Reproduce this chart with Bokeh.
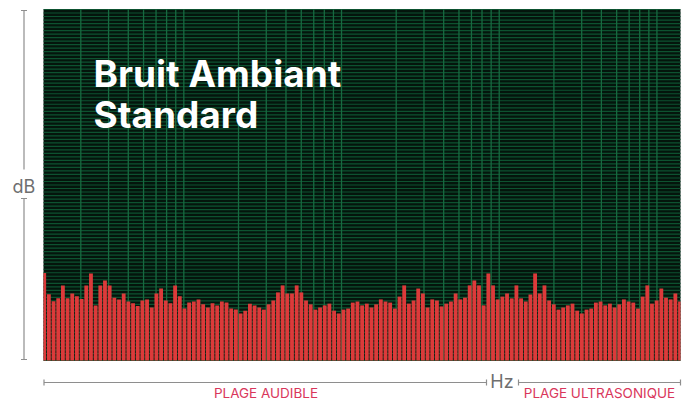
import math
import numpy as np
from bokeh.plotting import figure
from bokeh.models import Range1d, LinearScale, LogScale, Label, Arrow, TeeHead
from bokeh.embed import file_html
from bokeh.resources import INLINE

# ---- data ----
bar_index = list(range(137))
levels_db = [
    24.9, 18.9, 16.9, 17.7, 21.4, 17.7, 19.1, 18.3, 17.5, 21.4,
    24.8, 15.7, 21.4, 22.8, 21.4, 17.9, 17.4, 19.1, 16.8, 16.3,
    15.5, 17.1, 17.4, 15.1, 19.1, 20.5, 17.1, 16.3, 21.4, 18.3,
    14.8, 16.5, 16.8, 17.4, 16.0, 15.1, 16.3, 15.7, 16.8, 16.5,
    14.8, 14.5, 13.4, 14.2, 16.2, 15.7, 15.1, 14.5, 16.0, 17.1,
    19.4, 21.4, 19.1, 19.1, 21.4, 19.4, 17.1, 16.0, 14.5, 15.1,
    15.7, 16.2, 14.2, 13.4, 14.5, 14.8, 16.5, 16.8, 15.7, 16.2,
    15.1, 16.0, 17.4, 16.8, 16.5, 14.8, 18.2, 21.4, 16.2, 17.1,
    20.5, 19.1, 15.1, 17.4, 17.1, 15.4, 16.2, 16.8, 19.1, 17.4,
    17.9, 21.4, 22.8, 21.4, 15.7, 24.8, 21.4, 17.4, 18.2, 19.1,
    17.7, 21.4, 17.7, 16.8, 18.8, 24.8, 19.1, 21.4, 17.1, 16.0,
    14.5, 15.1, 15.7, 16.2, 14.2, 13.4, 14.5, 14.8, 16.5, 16.8,
    15.7, 16.2, 15.1, 16.0, 17.4, 16.8, 16.5, 14.8, 18.2, 21.4,
    16.2, 17.1, 20.5, 17.9, 17.4, 19.1, 16.8,
]
bar_range = [-0.15, 136.1]
freq_range_hz = [11.6, 127000]
freq_grid_hz = [20, 30, 40, 50, 60, 70, 80, 90,
                200, 300, 400, 500, 600, 700, 800, 900,
                2000, 3000, 4000, 5000, 6000, 7000, 8000, 9000,
                20000, 30000, 40000, 50000, 60000, 70000, 80000, 90000]
db_range = [0, 100]
db_grid = list(range(0, 101))
title_lines = ["Bruit Ambiant", "Standard"]
y_label = "dB"
x_label = "Hz"
band_labels = ["PLAGE AUDIBLE", "PLAGE ULTRASONIQUE"]

# ---- layout (canvas pixels) ----
W, H = 689, 401
L, R, T, B = 43, 680, 9, 360

p = figure(width=W, height=H, output_backend="svg", toolbar_location=None,
           x_axis_location=None, y_axis_location=None,
           x_range=Range1d(0, W), y_range=Range1d(H, 0),
           min_border=0)
p.min_border_left = p.min_border_right = p.min_border_top = p.min_border_bottom = 0
p.background_fill_color = "white"
p.border_fill_color = "white"
p.outline_line_color = None
p.grid.visible = False

# extra ranges so the plot area [L,R]x[T,B] shows the data ranges
pitch = (R - L) / (bar_range[1] - bar_range[0])
idx_start = bar_range[0] - L / pitch
idx_end = bar_range[1] + (W - R) / pitch
dbs = (B - T) / (db_range[1] - db_range[0])
db_start = db_range[0] - (H - B) / dbs
db_end = db_range[1] + T / dbs
dec = (R - L) / math.log10(freq_range_hz[1] / freq_range_hz[0])
f_start = freq_range_hz[0] / 10 ** (L / dec)
f_end = freq_range_hz[1] * 10 ** ((W - R) / dec)
p.extra_x_ranges = {"idx": Range1d(idx_start, idx_end), "freq": Range1d(f_start, f_end)}
p.extra_x_scales = {"idx": LinearScale(), "freq": LogScale()}
p.extra_y_ranges = {"db": Range1d(db_start, db_end)}

# plot area background
p.quad(left=[L], right=[R], top=[T], bottom=[B], fill_color="#04150c", line_color=None)

# horizontal grid (dB)
p.segment(x0=[L] * len(db_grid), x1=[R] * len(db_grid), y0=db_grid, y1=db_grid,
          y_range_name="db", line_color="#0d5230", line_width=1.2)
# vertical grid (log frequency)
p.segment(x0=freq_grid_hz, x1=freq_grid_hz, y0=[T] * len(freq_grid_hz), y1=[B] * len(freq_grid_hz),
          x_range_name="freq", line_color="#176a40", line_width=1.3)

# bars, clipped to the plot area
bi = np.array(bar_index, dtype=float)
half = 0.41
p.quad(left=np.clip(bi - half, bar_range[0], bar_range[1]),
       right=np.clip(bi + half, bar_range[0], bar_range[1]),
       bottom=0, top=levels_db, x_range_name="idx", y_range_name="db",
       fill_color="#dc3a3a", line_color=None)

# text baseline correction for Label rendering (fraction of font size)
BASE_FIX = 0.34

# title
for txt, yy in zip(title_lines, [86, 127]):
    p.add_layout(Label(x=93, y=yy - BASE_FIX * 37, text=txt,
                       text_font="Inter", text_font_style="bold", text_font_size="37px",
                       text_color="white", text_align="left", text_baseline="alphabetic"))

axis_col = "#8e8e8e"
lab_col = "#6f6f6f"
red_col = "#d9365b"


def seg(x0, y0, x1, y1, cap_start=True, cap_end=True):
    p.add_layout(Arrow(x_start=x0, y_start=y0, x_end=x1, y_end=y1,
                       line_color=axis_col, line_width=1.2,
                       start=TeeHead(size=6, line_color=axis_col, line_width=1.2) if cap_start else None,
                       end=TeeHead(size=6, line_color=axis_col, line_width=1.2) if cap_end else None))


# y decoration
seg(23.5, 10, 23.5, 169, True, False)
seg(23.5, 198, 23.5, 359, True, True)
p.add_layout(Label(x=23.5, y=192 - BASE_FIX * 18, text=y_label,
                   text_font="Inter", text_font_size="18px", text_color=lab_col,
                   text_align="center", text_baseline="alphabetic"))
# x decoration
seg(43.5, 382, 486, 382, True, True)
seg(518, 382, 680, 382, True, True)
p.add_layout(Label(x=501.5, y=387 - BASE_FIX * 18, text=x_label,
                   text_font="Inter", text_font_size="18px", text_color=lab_col,
                   text_align="center", text_baseline="alphabetic"))
for txt, xx in zip(band_labels, [265.5, 599]):
    p.add_layout(Label(x=xx, y=397.5 - BASE_FIX * 13.5, text=txt,
                       text_font="Inter", text_font_size="13.5px", text_color=red_col,
                       text_align="center", text_baseline="alphabetic"))

open("out.html", "w").write(file_html(p, INLINE))
